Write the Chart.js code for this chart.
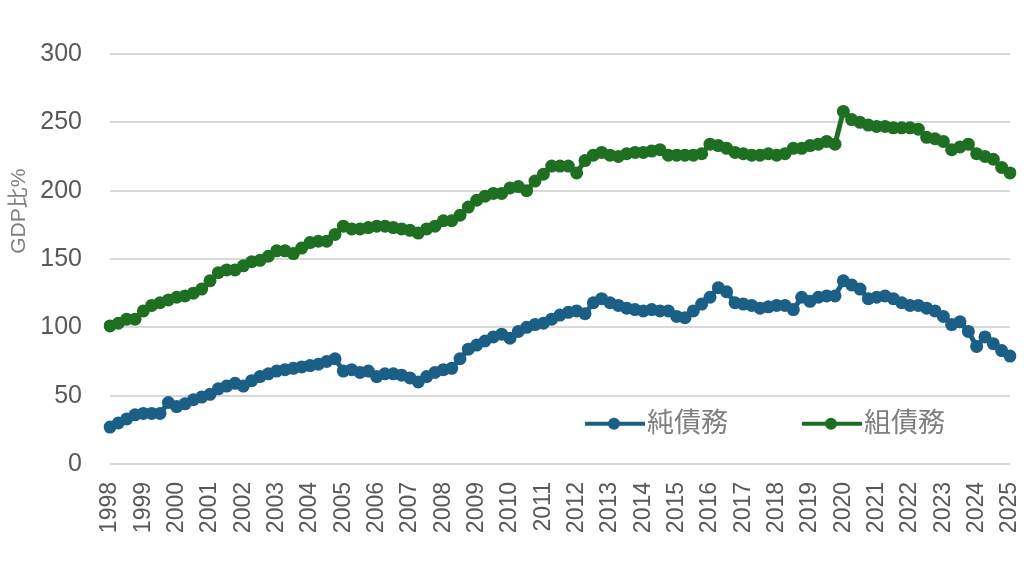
<!DOCTYPE html>
<html>
<head>
<meta charset="utf-8">
<script src="https://cdn.jsdelivr.net/npm/chart.js@4/dist/chart.umd.min.js"></script>
<style>
    html, body { margin: 0; padding: 0; background: #fff; }
    #wrap { width: 1024px; height: 579px; }
</style>
</head>
<body>
<div id="wrap"><canvas id="debt-chart"></canvas></div>
<script>
// Роки (підписи осі X) — дані квартальні, підпис на першому кварталі
const years = [1998, 1999, 2000, 2001, 2002, 2003, 2004, 2005, 2006, 2007, 2008, 2009, 2010,
    2011, 2012, 2013, 2014, 2015, 2016, 2017, 2018, 2019, 2020, 2021, 2022, 2023, 2024, 2025];

// 純債務 (GDP比%), 1998Q1 .. 2025Q1
const netDebt = [
    27, 30, 33, 36,  37, 37, 37, 45,  42, 44, 47, 49,  51, 55, 57, 59,
    57, 61, 64, 66,  68, 69, 70, 71,  72, 73, 75, 77,  68, 69, 67, 68,
    64, 66, 66, 65,  63, 60, 64, 67,  69, 70, 77, 84,  87, 90, 93, 95,
    92, 97, 100, 102,  103, 106, 109, 111,  112, 110, 118, 121,  118, 116, 114, 113,
    112, 113, 112, 112,  108, 107, 112, 117,  122, 129, 126, 118,  117, 116, 114, 115,
    116, 116, 113, 122,  119, 122, 123, 123,  134, 131, 128, 121,  122, 123, 121, 118,
    116, 116, 114, 112,  108, 102, 104, 97,  86, 93, 88, 83,  79
];

// 組債務 (GDP比%), 1998Q1 .. 2025Q1
const grossDebt = [
    101, 103, 106, 106,  112, 116, 118, 120,  122, 123, 125, 128,  134, 140, 142, 142,
    145, 148, 149, 152,  156, 156, 154, 158,  162, 163, 163, 168,  174, 172, 172, 173,
    174, 174, 173, 172,  171, 169, 172, 174,  178, 178, 182, 188,  193, 196, 198, 198,
    202, 203, 200, 207,  212, 218, 218, 218,  213, 222, 226, 228,  226, 225, 227, 228,
    228, 229, 230, 226,  226, 226, 226, 227,  234, 233, 231, 228,  227, 226, 226, 227,
    226, 227, 231, 231,  233, 234, 236, 234,  258, 252, 250, 248,  247, 247, 246, 246,
    246, 245, 239, 238,  236, 230, 232, 234,  227, 225, 223, 217,  213
];

const seriesNames = ['純債務', '組債務'];
const seriesColors = ['#1b5f87', '#1f6f22'];
const yTicks = [0, 50, 100, 150, 200, 250, 300];

// Категорії: кожен квартал, рік показується лише для Q1
const labels = [];
years.forEach(y => {
    for (let q = 1; q <= 4; q++) labels.push(y + 'Q' + q);
});
labels.length = netDebt.length;

const FONT = '"Liberation Sans", "Noto Sans CJK JP", Arial, sans-serif';

// Легенда всередині області графіка + підпис осі Y
const insideLegend = {
    id: 'insideLegend',
    afterDraw(chart) {
        const ctx = chart.ctx;
        const area = chart.chartArea;
        const y = area.top + (area.bottom - area.top) * 0.902;
        const starts = [area.left + 475, area.left + 692];
        ctx.save();
        seriesNames.forEach((name, i) => {
            const x0 = starts[i];
            ctx.strokeStyle = seriesColors[i];
            ctx.lineWidth = 4;
            ctx.beginPath();
            ctx.moveTo(x0, y);
            ctx.lineTo(x0 + 60, y);
            ctx.stroke();
            ctx.fillStyle = seriesColors[i];
            ctx.beginPath();
            ctx.arc(x0 + 29, y, 6, 0, Math.PI * 2);
            ctx.fill();
            ctx.fillStyle = '#7f7f7f';
            ctx.font = '27px ' + FONT;
            ctx.textAlign = 'left';
            ctx.textBaseline = 'middle';
            ctx.fillText(name, x0 + 62, y + 1);
        });

        // GDP比%
        ctx.translate(19, chart.scales.y.getPixelForValue(185));
        ctx.rotate(-Math.PI / 2);
        ctx.fillStyle = '#7f7f7f';
        ctx.font = '21px ' + FONT;
        ctx.textAlign = 'center';
        ctx.textBaseline = 'middle';
        ctx.fillText('GDP比%', 0, 0);
        ctx.restore();
    }
};

function makeDataset(label, data, color) {
    return {
        label: label,
        data: data,
        borderColor: color,
        backgroundColor: color,
        borderWidth: 5,
        pointRadius: 6.5,
        pointBorderWidth: 0,
        pointHoverRadius: 6.5,
        tension: 0,
        fill: false
    };
}

new Chart(document.getElementById('debt-chart'), {
    type: 'line',
    data: {
        labels: labels,
        datasets: [
            makeDataset(seriesNames[0], netDebt, seriesColors[0]),
            makeDataset(seriesNames[1], grossDebt, seriesColors[1])
        ]
    },
    options: {
        responsive: true,
        maintainAspectRatio: false,
        animation: false,
        layout: { padding: { top: 54, right: 14, left: 0, bottom: 0 } },
        plugins: {
            legend: { display: false },
            tooltip: { enabled: false }
        },
        scales: {
            x: {
                offset: false,
                grid: { display: false, drawTicks: false },
                border: { display: false },
                afterFit(scale) {
                    scale.height = 115;
                    scale.paddingLeft = 0;
                    scale.paddingRight = 0;
                },
                ticks: {
                    autoSkip: false,
                    maxRotation: 90,
                    minRotation: 90,
                    padding: 18,
                    color: '#595959',
                    font: { family: FONT, size: 23 },
                    callback(value, index) {
                        const lbl = this.getLabelForValue(value);
                        return lbl.endsWith('Q1') ? lbl.slice(0, 4) : '';
                    }
                }
            },
            y: {
                min: 0,
                max: 300,
                afterFit(scale) {
                    scale.width = 110;
                    scale.paddingTop = 0;
                    scale.paddingBottom = 0;
                },
                afterBuildTicks(scale) { scale.ticks = yTicks.map(v => ({ value: v })); },
                grid: { color: '#d9d9d9', lineWidth: 2, drawTicks: false },
                border: { display: false },
                ticks: {
                    padding: 28,
                    color: '#595959',
                    font: { family: FONT, size: 25 }
                }
            }
        }
    },
    plugins: [insideLegend]
});
</script>
</body>
</html>
